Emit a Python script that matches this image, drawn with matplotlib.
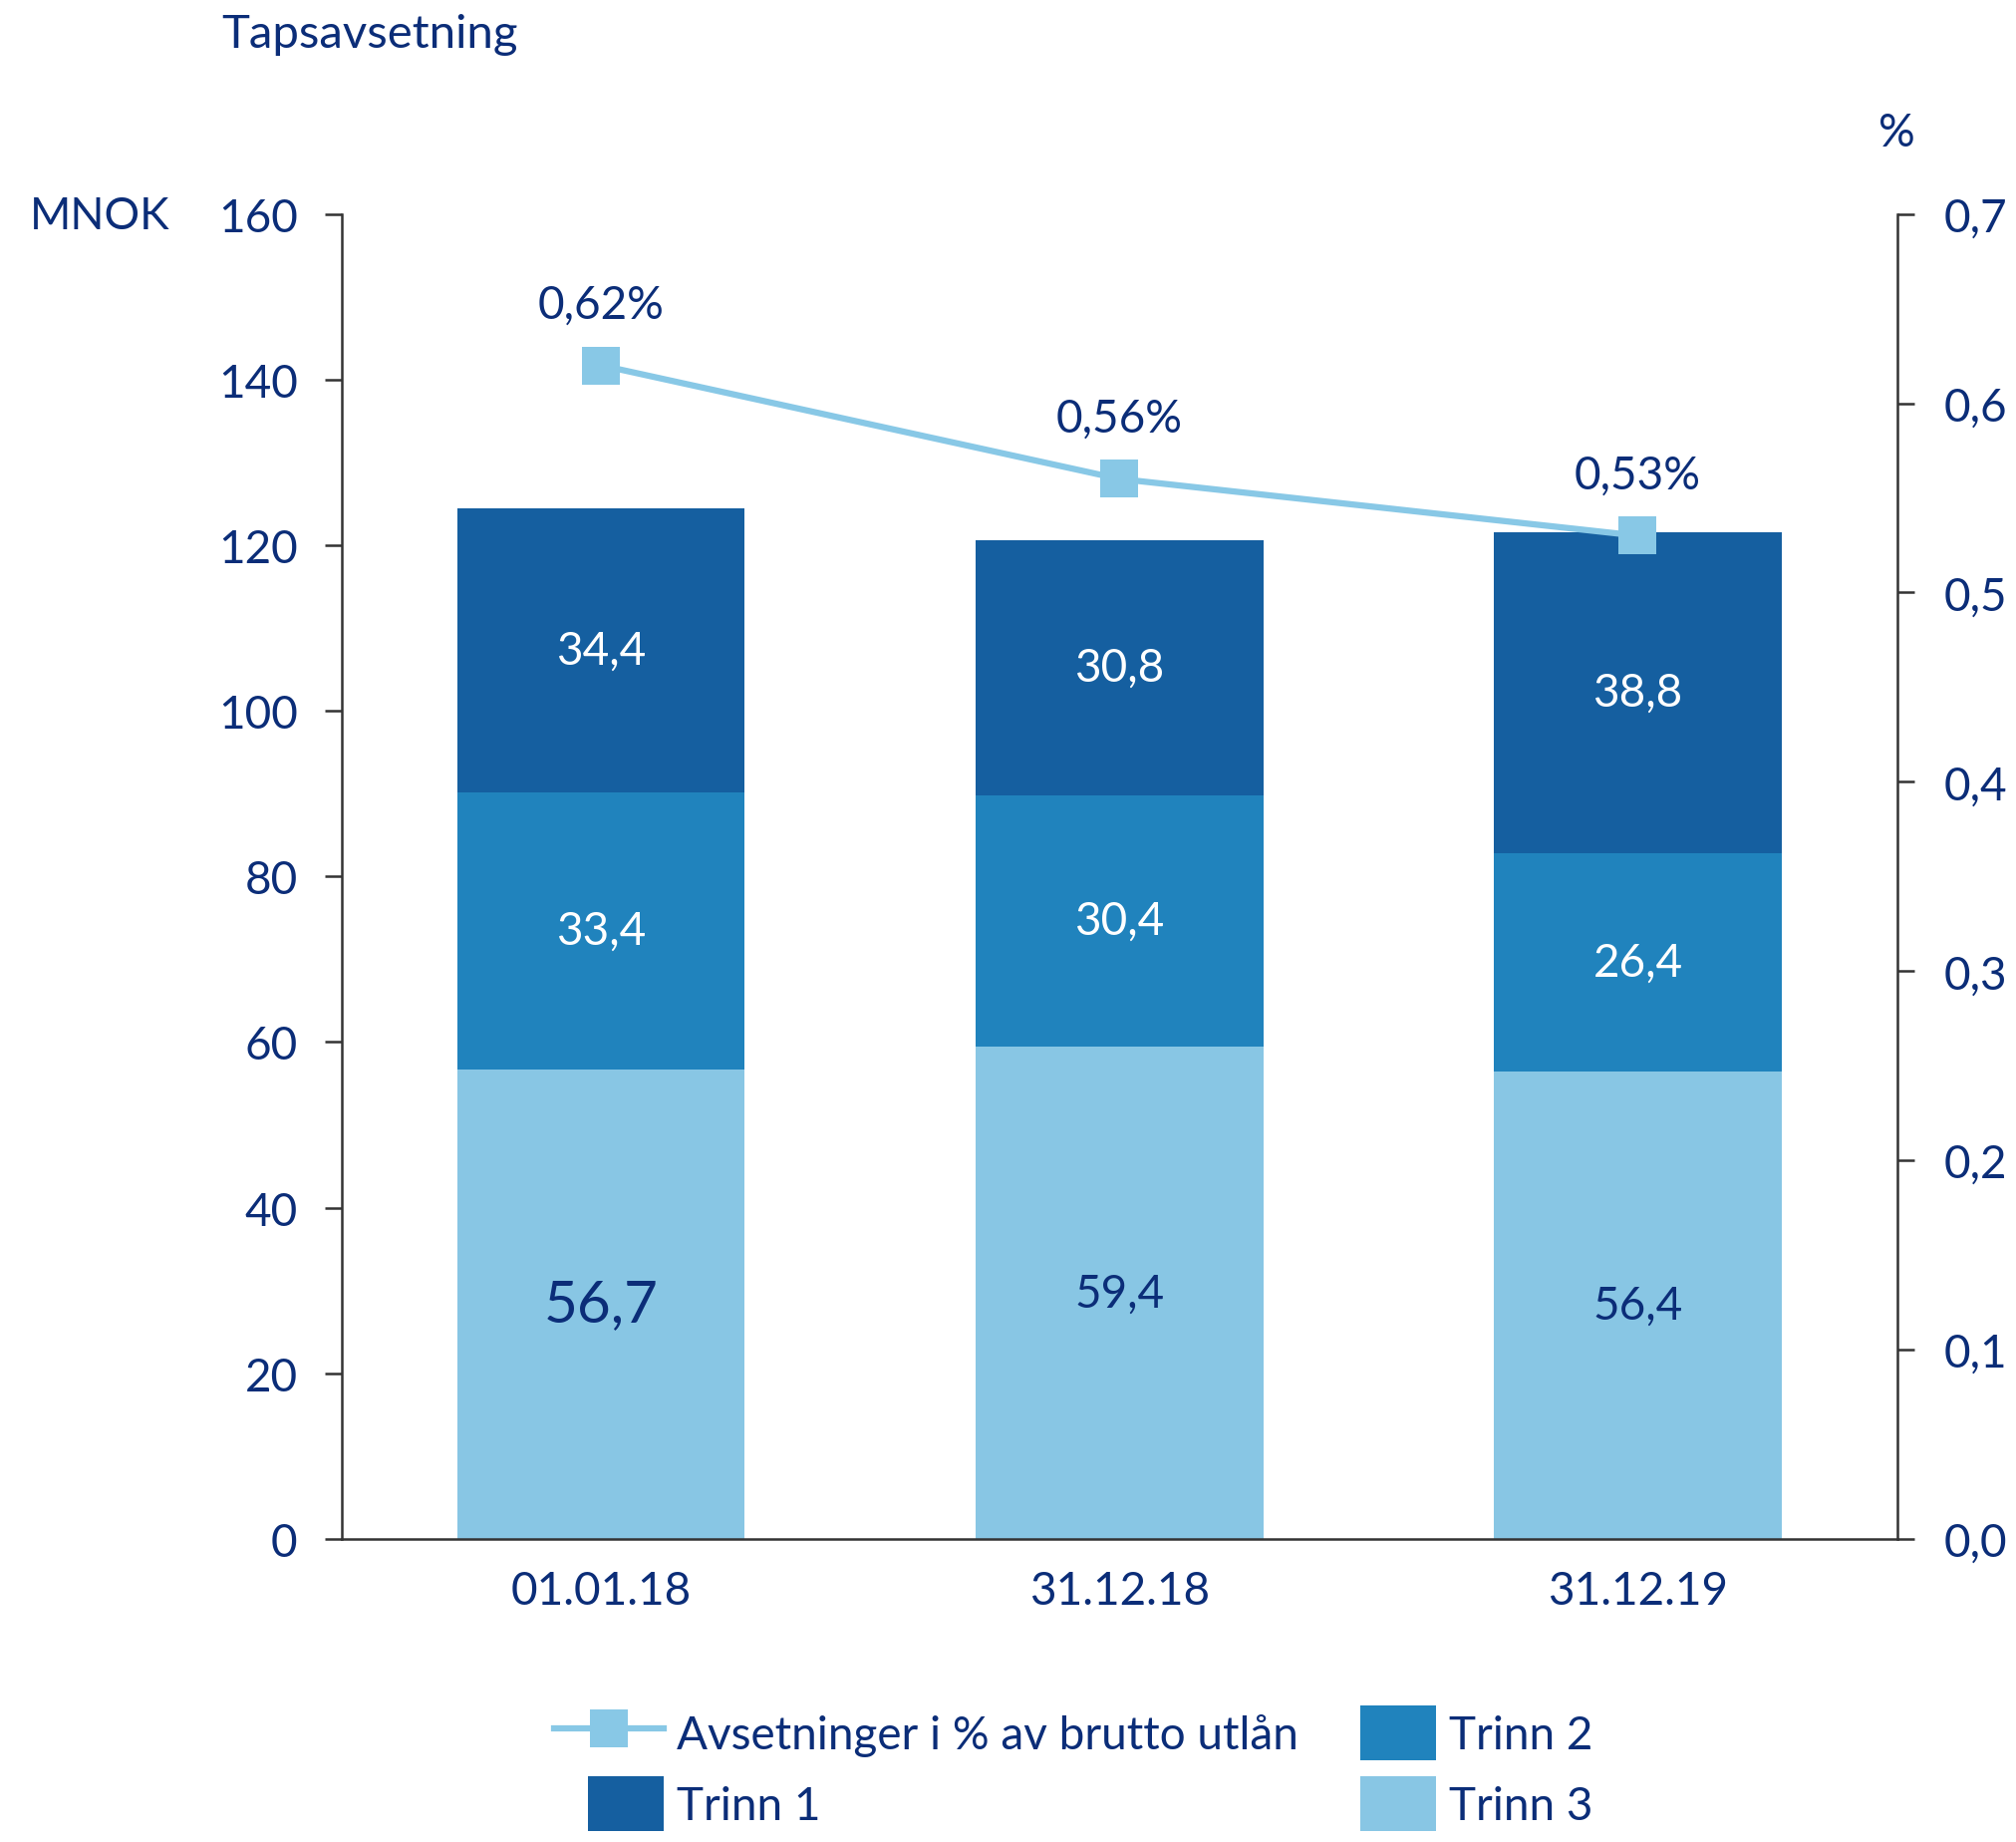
import matplotlib
matplotlib.use("Agg")
import matplotlib.pyplot as plt
import matplotlib.patches as mpatches
from matplotlib.legend_handler import HandlerPatch
import numpy as np

plt.rcParams['font.family'] = ['Lato', 'DejaVu Sans']

categories = ["01.01.18", "31.12.18", "31.12.19"]
trinn3 = [56.7, 59.4, 56.4]
trinn2 = [33.4, 30.4, 26.4]
trinn1 = [34.4, 30.8, 38.8]
pct = [0.62, 0.56, 0.53]
left_ticks = [0, 20, 40, 60, 80, 100, 120, 140, 160]
right_ticks = [0.0, 0.1, 0.2, 0.3, 0.4, 0.5, 0.6, 0.7]

NAVY = "#0B2D78"
C1 = "#155FA0"
C2 = "#2083BD"
C3 = "#88C6E4"
CL = "#88C8E6"
AXC = "#333333"

fig = plt.figure(figsize=(20.24, 18.49), dpi=100)
ax = fig.add_axes([0.1695, 0.1644, 0.9405 - 0.1695, 0.8834 - 0.1644])
ax2 = ax.twinx()

x = np.arange(len(categories))
w = 0.555
b3 = ax.bar(x, trinn3, w, color=C3, label="Trinn 3")
b2 = ax.bar(x, trinn2, w, bottom=trinn3, color=C2, label="Trinn 2")
bot1 = np.array(trinn3) + np.array(trinn2)
b1 = ax.bar(x, trinn1, w, bottom=bot1, color=C1, label="Trinn 1")

def fmt(v):
    return f"{v:.1f}".replace(".", ",")

for i in range(len(x)):
    fs = 42 if i == 0 else 33
    ax.text(x[i], trinn3[i] / 2, fmt(trinn3[i]), ha="center", va="center",
            color=NAVY, fontsize=fs)
    ax.text(x[i], trinn3[i] + trinn2[i] / 2, fmt(trinn2[i]), ha="center",
            va="center", color="white", fontsize=33)
    ax.text(x[i], bot1[i] + trinn1[i] / 2, fmt(trinn1[i]), ha="center",
            va="center", color="white", fontsize=33)

ln, = ax2.plot(x, pct, color=CL, lw=4.5, marker="s", markersize=28,
               markeredgewidth=0, label="Avsetninger i % av brutto utlån")
for i in range(len(x)):
    ax2.annotate(f"{pct[i]:.2f}%".replace(".", ","), (x[i], pct[i]),
                 xytext=(0, 44), textcoords="offset points", ha="center",
                 va="center", color=NAVY, fontsize=33)

ax.set_xlim(-0.5, 2.5)
ax.set_ylim(0, 160)
ax2.set_ylim(0, 0.7)
ax.set_yticks(left_ticks)
ax.set_yticklabels([str(t) for t in left_ticks])
ax2.set_yticks(right_ticks)
ax2.set_yticklabels([f"{t:.1f}".replace(".", ",") for t in right_ticks])
ax.set_xticks(x)
ax.set_xticklabels(categories)

for a in (ax, ax2):
    a.spines["top"].set_visible(False)
    for s in ("left", "right", "bottom"):
        a.spines[s].set_color(AXC)
        a.spines[s].set_linewidth(1.8)
ax.tick_params(axis="y", length=12, width=1.8, color=AXC, labelsize=33,
               labelcolor=NAVY, pad=20)
ax2.tick_params(axis="y", length=12, width=1.8, color=AXC, labelsize=33,
                labelcolor=NAVY, pad=22)
ax.tick_params(axis="x", length=0, labelsize=33, labelcolor=NAVY, pad=22)
ax.spines["right"].set_visible(False)
ax2.spines["left"].set_visible(False)
ax2.spines["bottom"].set_visible(False)

fig.text(0.1097, 0.981, "Tapsavsetning", ha="left", va="center",
         color=NAVY, fontsize=34)
fig.text(0.0148, 0.8826, "MNOK", ha="left", va="center", color=NAVY,
         fontsize=32)
fig.text(0.9405, 0.9275, "%", ha="center", va="center", color=NAVY,
         fontsize=33)


def narrow_patch(legend, orig_handle, xdescent, ydescent, width, height,
                 fontsize):
    pw = width * 0.69
    ph = fontsize * 1.2
    cy = -ydescent + height / 2
    return mpatches.Rectangle((-xdescent + width - pw, cy - ph / 2), pw, ph)


handles = [ln, b1[0], b2[0], b3[0]]
labels = ["Avsetninger i % av brutto utlån", "Trinn 1", "Trinn 2", "Trinn 3"]
leg = fig.legend(handles, labels, ncol=2, loc="upper left",
                 bbox_to_anchor=(0.2745, 0.0725), frameon=False, fontsize=33,
                 labelcolor=NAVY, handlelength=2.4, handleheight=1.3,
                 handletextpad=0.3, labelspacing=0.45, columnspacing=0.6,
                 borderpad=0, borderaxespad=0,
                 handler_map={mpatches.Rectangle: HandlerPatch(patch_func=narrow_patch)})

fig.savefig("out.png", dpi=100)
